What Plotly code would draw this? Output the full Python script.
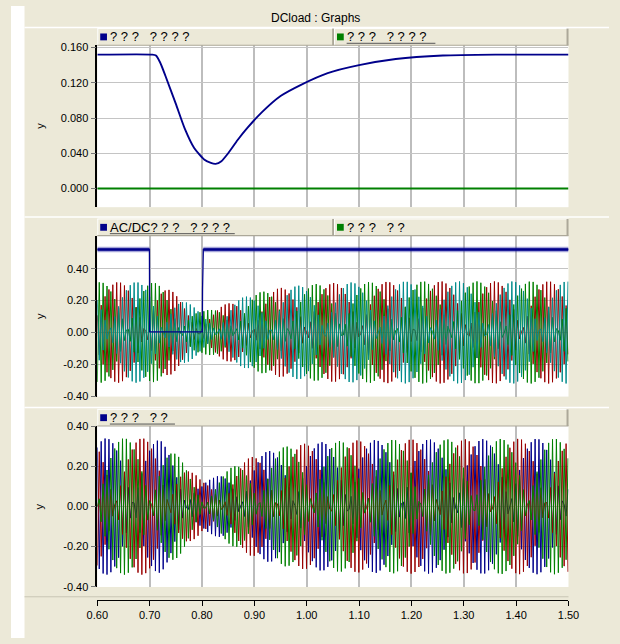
import numpy as np
import plotly.graph_objects as go

W, H = 620, 644

# ---------------- data ----------------
# Panel 1: blue curve and green zero line
t_p1 = [0.60, 0.705, 0.712, 0.72, 0.73, 0.75, 0.767, 0.785, 0.804, 0.817, 0.826, 0.837,
        0.85, 0.868, 0.887, 0.915, 0.95, 0.99, 1.04, 1.10, 1.17, 1.26, 1.36, 1.50]
blue_p1 = [0.152, 0.152, 0.151, 0.143, 0.128, 0.096, 0.068, 0.046, 0.033, 0.029, 0.028, 0.031,
           0.040, 0.055, 0.069, 0.087, 0.105, 0.118, 0.131, 0.140, 0.147, 0.151, 0.152, 0.152]
t_green_p1 = [0.60, 1.50]
green_p1 = [0.0, 0.0]

# Panel 2: blue (AC/DC) level
t_blue_p2 = [0.60, 0.6995, 0.700, 0.8005, 0.8010, 0.8025, 1.50]
blue_p2 = [0.52, 0.52, 0.004, 0.004, 0.27, 0.52, 0.52]

# Envelope amplitudes of the three-phase waveforms (panels 2 and 3)
t_env = [0.60, 0.70, 0.72, 0.74, 0.76, 0.78, 0.80, 0.82, 0.84, 0.87, 0.90, 0.95,
         1.00, 1.05, 1.10, 1.20, 1.30, 1.40, 1.50]
amp_p2 = [0.315, 0.315, 0.305, 0.265, 0.215, 0.170, 0.135, 0.145, 0.170, 0.210, 0.245, 0.280,
          0.300, 0.310, 0.315, 0.320, 0.320, 0.320, 0.320]
amp_p3 = [0.340, 0.340, 0.330, 0.290, 0.235, 0.175, 0.130, 0.140, 0.170, 0.215, 0.255, 0.295,
          0.315, 0.325, 0.330, 0.335, 0.335, 0.338, 0.338]

f_sig = 140.0         # signal frequency, Hz
plot_step = 0.0037    # plot sampling step, s
phase_deg = [0.0, -120.0, 120.0]

x_ticks = [0.60, 0.70, 0.80, 0.90, 1.00, 1.10, 1.20, 1.30, 1.40, 1.50]
y1_ticks = [0.0, 0.04, 0.08, 0.12, 0.16]
y23_ticks = [-0.40, -0.20, 0.0, 0.20, 0.40]

# ---------------- helpers ----------------
def px(x):
    return x / W

def py(y):
    return 1 - y / H

t_s = np.arange(0.60, 1.50 + 1e-9, plot_step)

def phase_wave(amp, ph):
    a = np.interp(t_s, t_env, amp)
    return a * np.sin(2 * np.pi * f_sig * t_s + np.deg2rad(ph + 20.0))

BEIGE = "#ECE9D8"
NAVY = "#00008B"
GREEN = "#008000"
RED = "#990000"
TEAL = "#008B8B"
FONT = "Liberation Sans, Arial, sans-serif"

fig = go.Figure()

# Panel 1
fig.add_trace(go.Scatter(x=t_green_p1, y=green_p1, mode="lines", line=dict(color=GREEN, width=2),
                         xaxis="x", yaxis="y"))
fig.add_trace(go.Scatter(x=t_p1, y=blue_p1, mode="lines",
                         line=dict(color=NAVY, width=1.9, shape="spline", smoothing=0.6),
                         xaxis="x", yaxis="y"))

# Panel 2 (three phases + blue level)
for ph, col in zip(phase_deg, [RED, GREEN, TEAL]):
    fig.add_trace(go.Scatter(x=t_s, y=phase_wave(amp_p2, ph), mode="lines",
                             line=dict(color=col, width=1.0), xaxis="x", yaxis="y2"))
fig.add_trace(go.Scatter(x=t_blue_p2, y=blue_p2, mode="lines", line=dict(color=NAVY, width=1.3),
                         xaxis="x", yaxis="y2"))
hi_x = [t_blue_p2[0], t_blue_p2[1], None, t_blue_p2[5], t_blue_p2[6]]
hi_y = [blue_p2[0], blue_p2[1], None, blue_p2[5], blue_p2[6]]
fig.add_trace(go.Scatter(x=hi_x, y=hi_y, mode="lines", line=dict(color="rgba(30,30,160,0.4)", width=5.5),
                         xaxis="x", yaxis="y2", connectgaps=False))
fig.add_trace(go.Scatter(x=hi_x, y=hi_y, mode="lines", line=dict(color=NAVY, width=2.4),
                         xaxis="x", yaxis="y2", connectgaps=False))

# Panel 3
for ph, col in zip(phase_deg, [NAVY, RED, GREEN]):
    fig.add_trace(go.Scatter(x=t_s, y=phase_wave(amp_p3, ph + 40.0), mode="lines",
                             line=dict(color=col, width=1.0), xaxis="x", yaxis="y3"))

x_dom = [px(89.5), px(578)]
yax_common = dict(showline=True, linecolor="black", linewidth=1.5, ticks="outside", ticklen=5,
                  tickcolor="#777777", showgrid=True, gridcolor="#C4C4C4", gridwidth=1,
                  zeroline=False, tickfont=dict(family=FONT, size=11, color="black"),
                  anchor="x", fixedrange=True)

fig.update_layout(
    autosize=True,
    margin=dict(l=0, r=0, t=0, b=0, pad=0),
    paper_bgcolor=BEIGE, plot_bgcolor="white",
    showlegend=False,
    font=dict(family=FONT, size=11, color="black"),
    xaxis=dict(domain=x_dom, range=[0.60, 1.50], tickvals=x_ticks,
               ticktext=[f"{v:.2f}" for v in x_ticks],
               anchor="free", position=py(605), showline=True, linecolor="black", linewidth=1,
               ticks="outside", ticklen=5, tickcolor="black", showgrid=True,
               gridcolor="#BDBDBD", gridwidth=1.5, zeroline=False, fixedrange=True,
               tickfont=dict(family=FONT, size=11, color="black")),
    yaxis=dict(domain=[py(205), py(40)], range=[-0.0212, 0.1626], tickvals=y1_ticks,
               ticktext=[f"{v:.3f}" for v in y1_ticks], **yax_common),
    yaxis2=dict(domain=[py(398), py(234)], range=[-0.402, 0.607], tickvals=y23_ticks,
                ticktext=[f"{v:.2f}" for v in y23_ticks], **yax_common),
    yaxis3=dict(domain=[py(592), py(428)], range=[-0.4015, 0.4015], tickvals=y23_ticks,
                ticktext=[f"{v:.2f}" for v in y23_ticks], **yax_common),
)

shapes = []
annots = []

def line(x0, y0, x1, y1, color, width=1, layer="above"):
    shapes.append(dict(type="line", xref="paper", yref="paper", x0=px(x0), y0=py(y0),
                       x1=px(x1), y1=py(y1), line=dict(color=color, width=width), layer=layer))

def rect(x0, y0, x1, y1, fill):
    shapes.append(dict(type="rect", xref="paper", yref="paper", x0=px(x0), y0=py(y0),
                       x1=px(x1), y1=py(y1), fillcolor=fill, line=dict(width=0), layer="below"))

def text(x, y, s, size=12, xanchor="left", angle=0):
    annots.append(dict(xref="paper", yref="paper", x=px(x), y=py(y), text=s, showarrow=False,
                       xanchor=xanchor, yanchor="middle", textangle=angle,
                       font=dict(family=FONT, size=size, color="black")))

# left white strip
rect(0, 0, 14, H, "white")

# title
text(316, 12, "DCload : Graphs", size=12, xanchor="center")

# separators (white highlight lines)
for yy in [22, 215, 409]:
    line(14, yy, W, yy, "white", 1.5)
line(14, 602, 578, 602, "#C8C5B4", 1)

def header(y0, y1, sections):
    for (xs, xe, col, lab, uend) in sections:
        shapes.append(dict(type="rect", xref="paper", yref="paper", x0=px(xs), y0=py(y1),
                           x1=px(xe), y1=py(y0), fillcolor=BEIGE, line=dict(width=0), layer="above"))
        line(xs, y0, xe, y0, "white", 1)
        line(xs + 0.5, y0, xs + 0.5, y1, "white", 1)
        line(xs, y1, xe, y1, "#ACA899", 1.2)
        line(xe - 1, y0, xe - 1, y1, "#ACA899", 2)
        ym = (y0 + y1) / 2
        shapes.append(dict(type="rect", xref="paper", yref="paper", x0=px(xs + 3), y0=py(ym + 3.5),
                           x1=px(xs + 10), y1=py(ym - 3.5), fillcolor=col, line=dict(width=0),
                           layer="above"))
        text(xs + 11, ym, lab, size=13)
        if uend:
            line(xs + 13, y1 - 2, uend, y1 - 2, "#555555", 1)

NB = "\u00a0"
q7 = NB.join(["?", "?", "?"]) + NB * 3 + NB.join(["?", "?", "?", "?"])
q5 = NB.join(["?", "?", "?"]) + NB * 3 + NB.join(["?", "?"])

header(23, 40, [(89.5, 335, NAVY, q7, None), (335, 578, GREEN, q7, 440)])
header(217, 234, [(89.5, 335, NAVY, "AC/DC" + q7, 232), (335, 578, GREEN, q5, None)])
header(411, 428, [(89.5, 578, NAVY, q5, 170)])

# y labels
for yc in [122, 316, 510]:
    text(30, yc, "y", size=11, xanchor="center", angle=-90)

fig.update_layout(shapes=shapes, annotations=annots)
fig.write_html("out.html",
               config={"displayModeBar": False, "responsive": False},
               default_width=f"{W}px;position:absolute;left:0px;top:0px",
               default_height=f"{H}px")
